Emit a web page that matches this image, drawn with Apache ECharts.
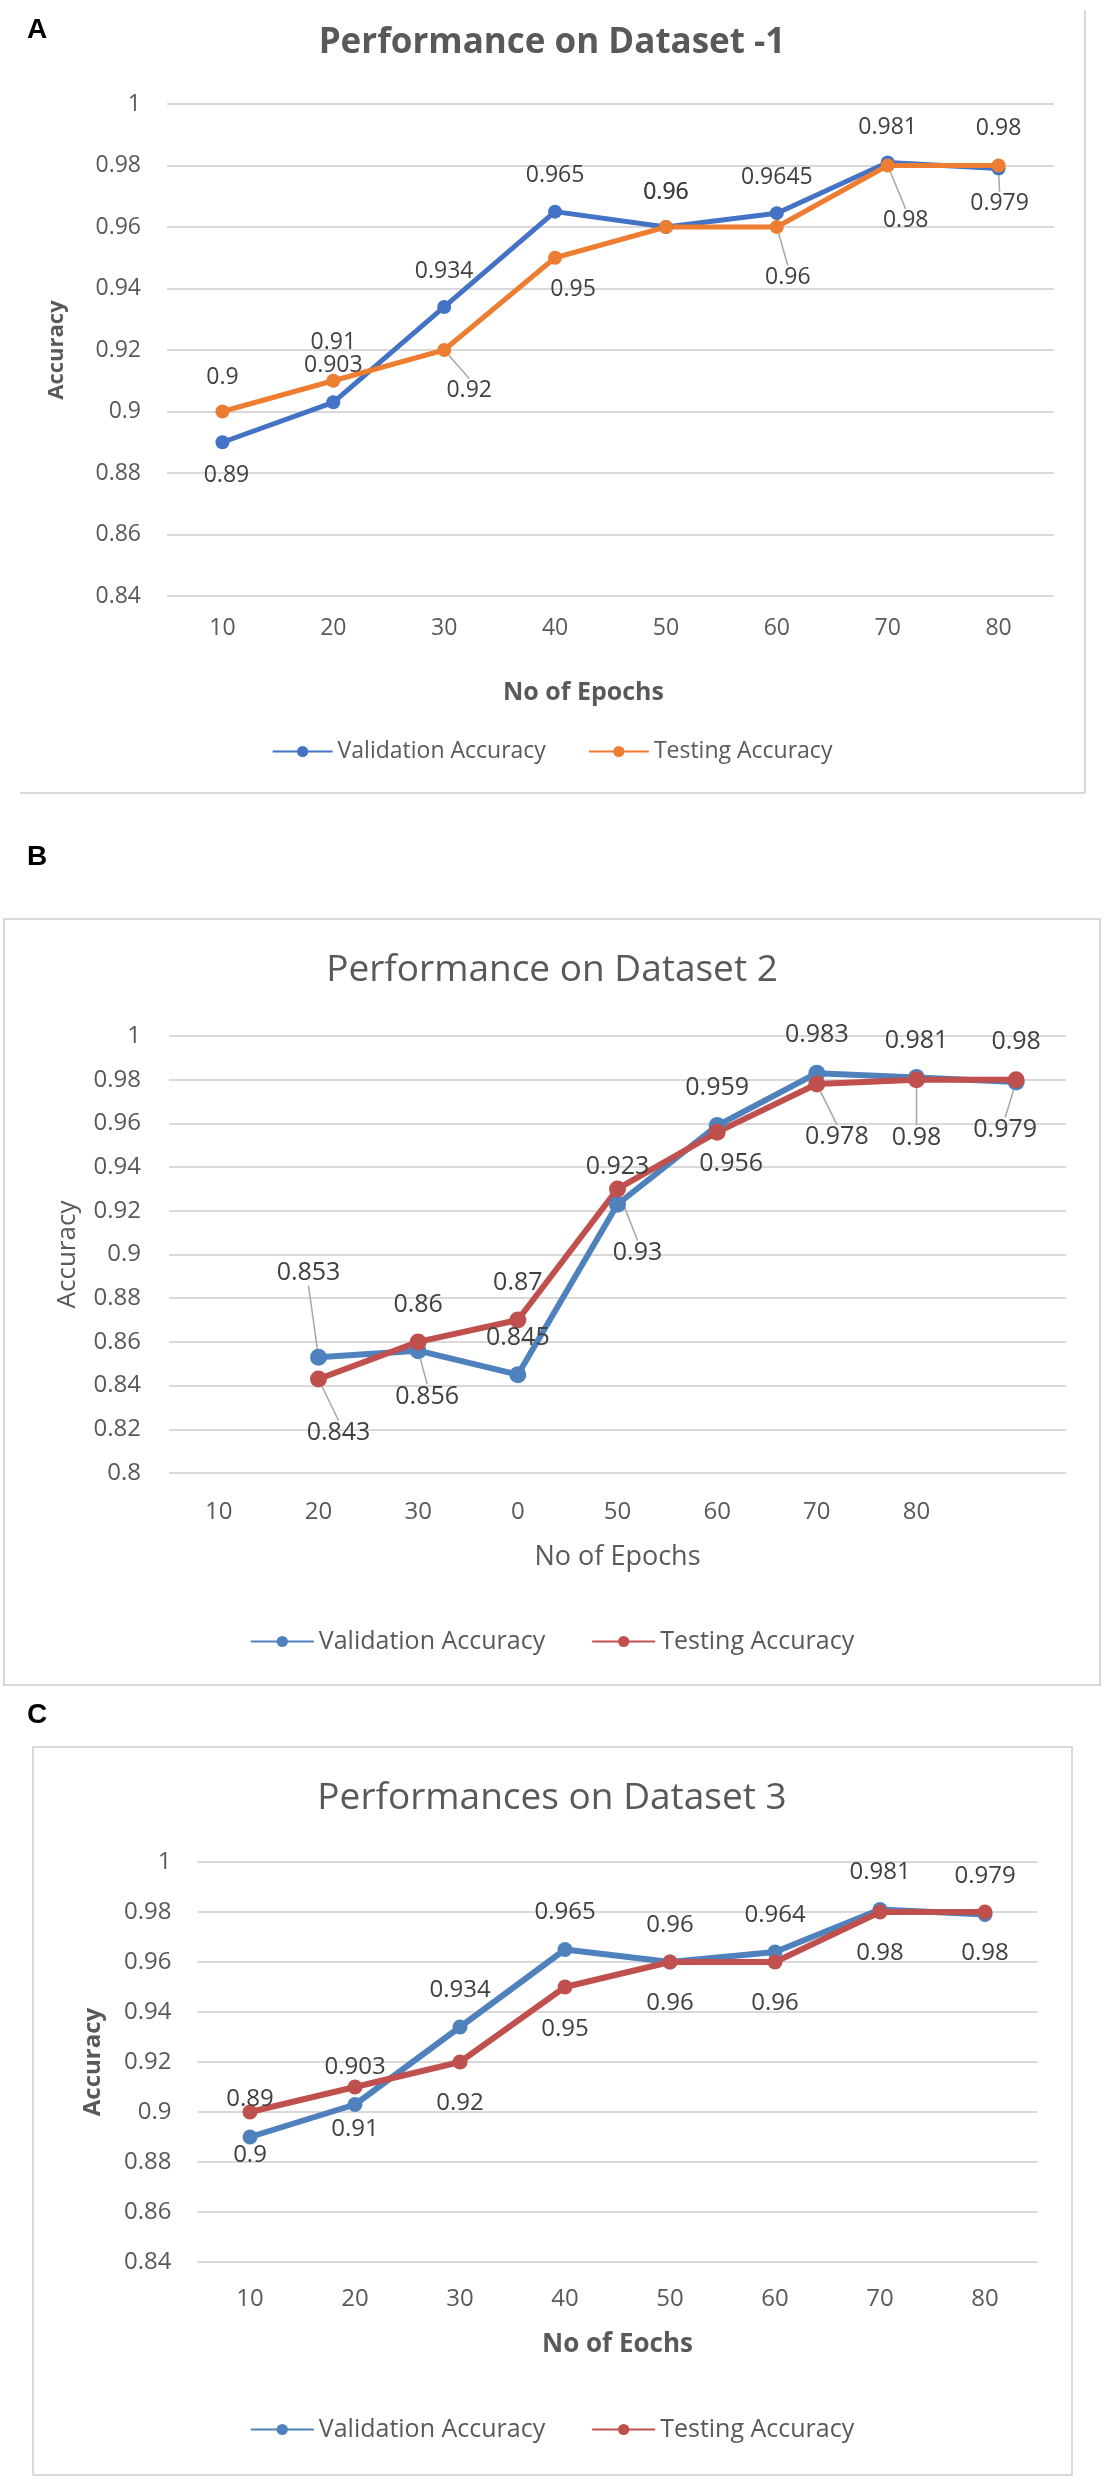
<!DOCTYPE html>
<html><head><meta charset="utf-8">
<script src="https://cdn.jsdelivr.net/npm/echarts@6/dist/echarts.min.js"></script>
<style>
html,body{margin:0;padding:0;background:#fff;}
#wrap{position:relative;width:1104px;height:2480px;background:#fff;}
.panel{position:absolute;left:0;width:1104px;}
</style></head><body>
<div id="wrap">
<div id="pa" class="panel" style="top:0;height:810px"></div>
<div id="pb" class="panel" style="top:810px;height:880px"></div>
<div id="pc" class="panel" style="top:1690px;height:790px"></div>
</div>
<script>
// ---------- data ----------
const epochsA = ['10','20','30','40','50','60','70','80'];
const valA  = [0.89, 0.903, 0.934, 0.965, 0.96, 0.9645, 0.981, 0.979];
const testA = [0.9, 0.91, 0.92, 0.95, 0.96, 0.96, 0.98, 0.98];

const epochsB = ['10','20','30','0','50','60','70','80',''];
const valB  = [null, 0.853, 0.856, 0.845, 0.923, 0.959, 0.983, 0.981, 0.979];
const testB = [null, 0.843, 0.86, 0.87, 0.93, 0.956, 0.978, 0.98, 0.98];

const epochsC = ['10','20','30','40','50','60','70','80'];
const valC  = [0.89, 0.903, 0.934, 0.965, 0.96, 0.964, 0.981, 0.979];
const testC = [0.9, 0.91, 0.92, 0.95, 0.96, 0.96, 0.98, 0.98];

const seriesNames = ['Validation Accuracy', 'Testing Accuracy'];

// ---------- label placement (layout only) : [dx, dy, leaderLine] ----------
const offValA  = [[4,33,0],[0,-37,0],[0,-35,0],[0,-36,0],[0,-35,0],[0,-36,0],[0,-35,0],[1,35,1]];
const offTestA = [[0,-34,0],[0,-38,0],[25,40,1],[18,32,0],[0,-35,0],[11,50,1],[18,55,1],[0,-37,0]];
const offValB  = [[0,0,0],[-10,-84,1],[9,46,1],[0,-37,0],[0,-37,0],[0,-38,0],[0,-38,0],[0,-37,0],[-11,48,1]];
const offTestB = [[0,0,0],[20,54,1],[0,-37,0],[0,-37,0],[20,64,1],[14,32,0],[20,53,1],[0,58,1],[0,-38,0]];
const offValC  = [[0,-38,0],[0,-37,0],[0,-37,0],[0,-37,0],[0,-37,0],[0,-37,0],[0,-37,0],[0,-38,0]];
const offTestC = [[0,43,0],[0,42,0],[0,41,0],[0,42,0],[0,41,0],[0,41,0],[0,41,0],[0,41,0]];

const FONT = '"Open Sans", "Liberation Sans", sans-serif';
const GRID_COLOR = '#D9D9D9';
const TXT = '#595959';

function makeSeries(name, values, offs, color, lw, sym, lblSize) {
  return {
    type: 'line',
    name: name,
    data: values.map((v, i) => ({ value: v, labelLine: { show: !!(offs[i] && offs[i][2]) } })),
    connectNulls: false,
    symbol: 'circle',
    symbolSize: sym,
    showAllSymbol: true,
    lineStyle: { color: color, width: lw },
    itemStyle: { color: color },
    label: { show: true, position: 'inside', color: '#404040', fontSize: lblSize, fontFamily: FONT },
    labelLine: { lineStyle: { color: '#A6A6A6', width: 1.5 } },
    labelLayout: function (p) { const o = offs[p.dataIndex] || [0,0]; return { dx: o[0], dy: o[1] }; },
    emphasis: { disabled: true },
    z: 2
  };
}

function makeOption(cfg) {
  return {
    animation: false,
    textStyle: { fontFamily: FONT },
    title: {
      text: cfg.title, left: 'center', top: cfg.titleTop,
      textStyle: { color: TXT, fontSize: cfg.titleSize, fontWeight: cfg.titleWeight, fontFamily: FONT }
    },
    legend: {
      data: seriesNames, top: cfg.legendTop, left: 'center',
      itemWidth: cfg.legendIconW, itemHeight: 14, itemGap: cfg.legendGap,
      textStyle: { color: TXT, fontSize: cfg.legendSize, fontFamily: FONT }
    },
    grid: { left: cfg.grid[0], top: cfg.grid[1], right: cfg.grid[2], height: cfg.grid[3], containLabel: false, outerBoundsMode: 'none' },
    xAxis: {
      type: 'category', data: cfg.categories, boundaryGap: true,
      axisLine: { show: false }, axisTick: { show: false },
      axisLabel: { color: TXT, fontSize: cfg.tickSize, margin: cfg.xMargin, interval: 0, fontFamily: FONT },
      name: cfg.xName, nameLocation: 'middle', nameGap: cfg.xNameGap,
      nameTextStyle: { color: TXT, fontSize: cfg.xNameSize, fontWeight: cfg.axisNameWeight, fontFamily: FONT, padding: cfg.xNamePad }
    },
    yAxis: {
      type: 'value', min: cfg.yMin, max: 1, interval: 0.02,
      axisLine: { show: false }, axisTick: { show: false },
      splitLine: { lineStyle: { color: GRID_COLOR, width: 2 } },
      axisLabel: { color: TXT, fontSize: cfg.tickSize, margin: cfg.yMargin, fontFamily: FONT },
      name: 'Accuracy', nameLocation: 'middle', nameGap: cfg.yNameGap,
      nameTextStyle: { color: TXT, fontSize: cfg.yNameSize, fontWeight: cfg.axisNameWeight, fontFamily: FONT }
    },
    series: [
      makeSeries(seriesNames[0], cfg.val, cfg.offVal, cfg.colors[0], cfg.lw, cfg.sym, cfg.lblSize),
      makeSeries(seriesNames[1], cfg.test, cfg.offTest, cfg.colors[1], cfg.lw, cfg.sym, cfg.lblSize)
    ],
    graphic: cfg.graphic
  };
}

const letterFont = 'bold 28px "Liberation Sans", Arial, sans-serif';

const chartA = echarts.init(document.getElementById('pa'));
chartA.setOption(makeOption({
  title: 'Performance on Dataset -1', titleTop: 21, titleSize: 35, titleWeight: 'bold',
  legendTop: 735, legendIconW: 60, legendGap: 42, legendSize: 23,
  grid: [167, 104, 50, 492],
  categories: epochsA, yMin: 0.84,
  tickSize: 23, xMargin: 21, yMargin: 26,
  xName: 'No of Epochs', xNameGap: 84, xNameSize: 25, xNamePad: [0, 54, 0, 0],
  yNameGap: 99, yNameSize: 22, axisNameWeight: 'bold',
  val: valA, test: testA, offVal: offValA, offTest: offTestA,
  colors: ['#4472C4', '#ED7D31'], lw: 5, sym: 14, lblSize: 23,
  graphic: [
    { type: 'text', x: 27, y: 30, style: { text: 'A', font: letterFont, fill: '#000', verticalAlign: 'middle' } },
    { type: 'line', shape: { x1: 1085, y1: 10, x2: 1085, y2: 793 }, style: { stroke: GRID_COLOR, lineWidth: 2 } },
    { type: 'line', shape: { x1: 20, y1: 793, x2: 1085, y2: 793 }, style: { stroke: GRID_COLOR, lineWidth: 2 } }
  ]
}));

const chartB = echarts.init(document.getElementById('pb'));
chartB.setOption(makeOption({
  title: 'Performance on Dataset 2', titleTop: 137, titleSize: 37, titleWeight: 'normal',
  legendTop: 814, legendIconW: 63, legendGap: 46, legendSize: 25,
  grid: [169, 226, 38, 437],
  categories: epochsB, yMin: 0.8,
  tickSize: 24, xMargin: 27, yMargin: 28,
  xName: 'No of Epochs', xNameGap: 71, xNameSize: 27, xNamePad: [0, 0, 0, 0],
  yNameGap: 88, yNameSize: 26, axisNameWeight: 'normal',
  val: valB, test: testB, offVal: offValB, offTest: offTestB,
  colors: ['#4F81BD', '#C0504D'], lw: 6, sym: 17, lblSize: 25,
  graphic: [
    { type: 'text', x: 27, y: 47, style: { text: 'B', font: letterFont, fill: '#000', verticalAlign: 'middle' } },
    { type: 'rect', shape: { x: 4, y: 109, width: 1096, height: 766 }, style: { fill: 'none', stroke: GRID_COLOR, lineWidth: 2 } }
  ]
}));

const chartC = echarts.init(document.getElementById('pc'));
chartC.setOption(makeOption({
  title: 'Performances on Dataset 3', titleTop: 85, titleSize: 37, titleWeight: 'normal',
  legendTop: 722, legendIconW: 63, legendGap: 46, legendSize: 25,
  grid: [197.5, 172, 66.5, 400],
  categories: epochsC, yMin: 0.84,
  tickSize: 24, xMargin: 25, yMargin: 26,
  xName: 'No of Eochs', xNameGap: 70, xNameSize: 26, xNamePad: [0, 0, 0, 0],
  yNameGap: 92, yNameSize: 24, axisNameWeight: 'bold',
  val: valC, test: testC, offVal: offValC, offTest: offTestC,
  colors: ['#4F81BD', '#C0504D'], lw: 6, sym: 15, lblSize: 24,
  graphic: [
    { type: 'text', x: 27, y: 25, style: { text: 'C', font: letterFont, fill: '#000', verticalAlign: 'middle' } },
    { type: 'rect', shape: { x: 33, y: 57, width: 1039, height: 728 }, style: { fill: 'none', stroke: GRID_COLOR, lineWidth: 2 } }
  ]
}));
</script>
</body></html>
